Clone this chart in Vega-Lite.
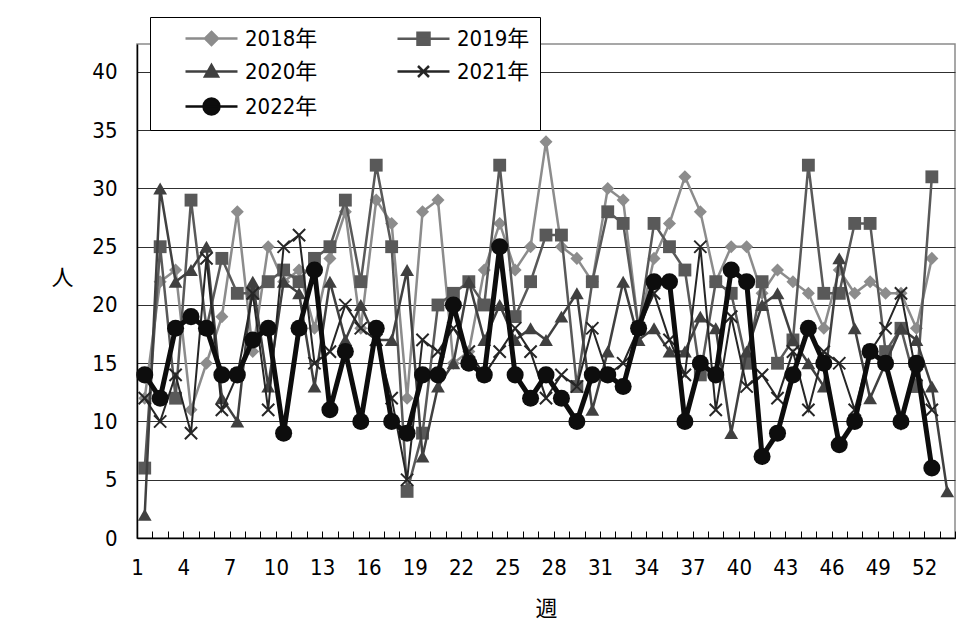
{
  "$schema": "https://vega.github.io/schema/vega-lite/v6.json",
  "width": 818,
  "height": 494,
  "autosize": {"type": "none"},
  "padding": {"left": 137, "top": 44, "right": 21, "bottom": 97},
  "background": "#ffffff",
  "config": {
    "view": {"stroke": "#8a8a8a", "strokeWidth": 1.5},
    "font": "Liberation Sans Narrow, DejaVu Sans Condensed, Noto Sans CJK JP, sans-serif",
    "axis": {
      "labelFont": "Liberation Sans Narrow, DejaVu Sans Condensed, Noto Sans CJK JP, sans-serif",
      "titleFont": "Noto Sans CJK JP, sans-serif",
      "labelColor": "#000000",
      "titleColor": "#000000",
      "domainColor": "#000000",
      "tickColor": "#000000"
    },
    "legend": {"strokeWidth": 1}
  },
  "datasets": {
    "weekly": [
      {"week": 1, "year": "2018年", "count": 12}, {"week": 2, "year": "2018年", "count": 22}, {"week": 3, "year": "2018年", "count": 23}, {"week": 4, "year": "2018年", "count": 11}, {"week": 5, "year": "2018年", "count": 15}, {"week": 6, "year": "2018年", "count": 19}, {"week": 7, "year": "2018年", "count": 28}, {"week": 8, "year": "2018年", "count": 16}, {"week": 9, "year": "2018年", "count": 25}, {"week": 10, "year": "2018年", "count": 22}, {"week": 11, "year": "2018年", "count": 23}, {"week": 12, "year": "2018年", "count": 18}, {"week": 13, "year": "2018年", "count": 24}, {"week": 14, "year": "2018年", "count": 28}, {"week": 15, "year": "2018年", "count": 18}, {"week": 16, "year": "2018年", "count": 29}, {"week": 17, "year": "2018年", "count": 27}, {"week": 18, "year": "2018年", "count": 12}, {"week": 19, "year": "2018年", "count": 28}, {"week": 20, "year": "2018年", "count": 29}, {"week": 21, "year": "2018年", "count": 15}, {"week": 22, "year": "2018年", "count": 16}, {"week": 23, "year": "2018年", "count": 23}, {"week": 24, "year": "2018年", "count": 27}, {"week": 25, "year": "2018年", "count": 23}, {"week": 26, "year": "2018年", "count": 25}, {"week": 27, "year": "2018年", "count": 34}, {"week": 28, "year": "2018年", "count": 25}, {"week": 29, "year": "2018年", "count": 24}, {"week": 30, "year": "2018年", "count": 22}, {"week": 31, "year": "2018年", "count": 30}, {"week": 32, "year": "2018年", "count": 29}, {"week": 33, "year": "2018年", "count": 18}, {"week": 34, "year": "2018年", "count": 24}, {"week": 35, "year": "2018年", "count": 27}, {"week": 36, "year": "2018年", "count": 31}, {"week": 37, "year": "2018年", "count": 28}, {"week": 38, "year": "2018年", "count": 22}, {"week": 39, "year": "2018年", "count": 25}, {"week": 40, "year": "2018年", "count": 25}, {"week": 41, "year": "2018年", "count": 21}, {"week": 42, "year": "2018年", "count": 23}, {"week": 43, "year": "2018年", "count": 22}, {"week": 44, "year": "2018年", "count": 21}, {"week": 45, "year": "2018年", "count": 18}, {"week": 46, "year": "2018年", "count": 23}, {"week": 47, "year": "2018年", "count": 21}, {"week": 48, "year": "2018年", "count": 22}, {"week": 49, "year": "2018年", "count": 21}, {"week": 50, "year": "2018年", "count": 21}, {"week": 51, "year": "2018年", "count": 18}, {"week": 52, "year": "2018年", "count": 24},

      {"week": 1, "year": "2019年", "count": 6}, {"week": 2, "year": "2019年", "count": 25}, {"week": 3, "year": "2019年", "count": 12}, {"week": 4, "year": "2019年", "count": 29}, {"week": 5, "year": "2019年", "count": 18}, {"week": 6, "year": "2019年", "count": 24}, {"week": 7, "year": "2019年", "count": 21}, {"week": 8, "year": "2019年", "count": 21}, {"week": 9, "year": "2019年", "count": 22}, {"week": 10, "year": "2019年", "count": 23}, {"week": 11, "year": "2019年", "count": 22}, {"week": 12, "year": "2019年", "count": 24}, {"week": 13, "year": "2019年", "count": 25}, {"week": 14, "year": "2019年", "count": 29}, {"week": 15, "year": "2019年", "count": 22}, {"week": 16, "year": "2019年", "count": 32}, {"week": 17, "year": "2019年", "count": 25}, {"week": 18, "year": "2019年", "count": 4}, {"week": 19, "year": "2019年", "count": 9}, {"week": 20, "year": "2019年", "count": 20}, {"week": 21, "year": "2019年", "count": 21}, {"week": 22, "year": "2019年", "count": 22}, {"week": 23, "year": "2019年", "count": 20}, {"week": 24, "year": "2019年", "count": 32}, {"week": 25, "year": "2019年", "count": 19}, {"week": 26, "year": "2019年", "count": 22}, {"week": 27, "year": "2019年", "count": 26}, {"week": 28, "year": "2019年", "count": 26}, {"week": 29, "year": "2019年", "count": 13}, {"week": 30, "year": "2019年", "count": 22}, {"week": 31, "year": "2019年", "count": 28}, {"week": 32, "year": "2019年", "count": 27}, {"week": 33, "year": "2019年", "count": 18}, {"week": 34, "year": "2019年", "count": 27}, {"week": 35, "year": "2019年", "count": 25}, {"week": 36, "year": "2019年", "count": 23}, {"week": 37, "year": "2019年", "count": 14}, {"week": 38, "year": "2019年", "count": 22}, {"week": 39, "year": "2019年", "count": 21}, {"week": 40, "year": "2019年", "count": 15}, {"week": 41, "year": "2019年", "count": 22}, {"week": 42, "year": "2019年", "count": 15}, {"week": 43, "year": "2019年", "count": 17}, {"week": 44, "year": "2019年", "count": 32}, {"week": 45, "year": "2019年", "count": 21}, {"week": 46, "year": "2019年", "count": 21}, {"week": 47, "year": "2019年", "count": 27}, {"week": 48, "year": "2019年", "count": 27}, {"week": 49, "year": "2019年", "count": 16}, {"week": 50, "year": "2019年", "count": 18}, {"week": 51, "year": "2019年", "count": 13}, {"week": 52, "year": "2019年", "count": 31},

      {"week": 1, "year": "2020年", "count": 2}, {"week": 2, "year": "2020年", "count": 30}, {"week": 3, "year": "2020年", "count": 22}, {"week": 4, "year": "2020年", "count": 23}, {"week": 5, "year": "2020年", "count": 25}, {"week": 6, "year": "2020年", "count": 12}, {"week": 7, "year": "2020年", "count": 10}, {"week": 8, "year": "2020年", "count": 22}, {"week": 9, "year": "2020年", "count": 13}, {"week": 10, "year": "2020年", "count": 22}, {"week": 11, "year": "2020年", "count": 21}, {"week": 12, "year": "2020年", "count": 13}, {"week": 13, "year": "2020年", "count": 22}, {"week": 14, "year": "2020年", "count": 17}, {"week": 15, "year": "2020年", "count": 20}, {"week": 16, "year": "2020年", "count": 17}, {"week": 17, "year": "2020年", "count": 17}, {"week": 18, "year": "2020年", "count": 23}, {"week": 19, "year": "2020年", "count": 7}, {"week": 20, "year": "2020年", "count": 13}, {"week": 21, "year": "2020年", "count": 15}, {"week": 22, "year": "2020年", "count": 22}, {"week": 23, "year": "2020年", "count": 17}, {"week": 24, "year": "2020年", "count": 20}, {"week": 25, "year": "2020年", "count": 17}, {"week": 26, "year": "2020年", "count": 18}, {"week": 27, "year": "2020年", "count": 17}, {"week": 28, "year": "2020年", "count": 19}, {"week": 29, "year": "2020年", "count": 21}, {"week": 30, "year": "2020年", "count": 11}, {"week": 31, "year": "2020年", "count": 16}, {"week": 32, "year": "2020年", "count": 22}, {"week": 33, "year": "2020年", "count": 17}, {"week": 34, "year": "2020年", "count": 18}, {"week": 35, "year": "2020年", "count": 16}, {"week": 36, "year": "2020年", "count": 16}, {"week": 37, "year": "2020年", "count": 19}, {"week": 38, "year": "2020年", "count": 18}, {"week": 39, "year": "2020年", "count": 9}, {"week": 40, "year": "2020年", "count": 16}, {"week": 41, "year": "2020年", "count": 20}, {"week": 42, "year": "2020年", "count": 21}, {"week": 43, "year": "2020年", "count": 17}, {"week": 44, "year": "2020年", "count": 15}, {"week": 45, "year": "2020年", "count": 13}, {"week": 46, "year": "2020年", "count": 24}, {"week": 47, "year": "2020年", "count": 18}, {"week": 48, "year": "2020年", "count": 12}, {"week": 49, "year": "2020年", "count": 15}, {"week": 50, "year": "2020年", "count": 18}, {"week": 51, "year": "2020年", "count": 17}, {"week": 52, "year": "2020年", "count": 13}, {"week": 53, "year": "2020年", "count": 4},

      {"week": 1, "year": "2021年", "count": 12}, {"week": 2, "year": "2021年", "count": 10}, {"week": 3, "year": "2021年", "count": 14}, {"week": 4, "year": "2021年", "count": 9}, {"week": 5, "year": "2021年", "count": 24}, {"week": 6, "year": "2021年", "count": 11}, {"week": 7, "year": "2021年", "count": 14}, {"week": 8, "year": "2021年", "count": 21}, {"week": 9, "year": "2021年", "count": 11}, {"week": 10, "year": "2021年", "count": 25}, {"week": 11, "year": "2021年", "count": 26}, {"week": 12, "year": "2021年", "count": 15}, {"week": 13, "year": "2021年", "count": 16}, {"week": 14, "year": "2021年", "count": 20}, {"week": 15, "year": "2021年", "count": 18}, {"week": 16, "year": "2021年", "count": 17}, {"week": 17, "year": "2021年", "count": 12}, {"week": 18, "year": "2021年", "count": 5}, {"week": 19, "year": "2021年", "count": 17}, {"week": 20, "year": "2021年", "count": 16}, {"week": 21, "year": "2021年", "count": 18}, {"week": 22, "year": "2021年", "count": 16}, {"week": 23, "year": "2021年", "count": 14}, {"week": 24, "year": "2021年", "count": 16}, {"week": 25, "year": "2021年", "count": 18}, {"week": 26, "year": "2021年", "count": 16}, {"week": 27, "year": "2021年", "count": 12}, {"week": 28, "year": "2021年", "count": 14}, {"week": 29, "year": "2021年", "count": 13}, {"week": 30, "year": "2021年", "count": 18}, {"week": 31, "year": "2021年", "count": 14}, {"week": 32, "year": "2021年", "count": 15}, {"week": 33, "year": "2021年", "count": 18}, {"week": 34, "year": "2021年", "count": 21}, {"week": 35, "year": "2021年", "count": 17}, {"week": 36, "year": "2021年", "count": 14}, {"week": 37, "year": "2021年", "count": 25}, {"week": 38, "year": "2021年", "count": 11}, {"week": 39, "year": "2021年", "count": 19}, {"week": 40, "year": "2021年", "count": 13}, {"week": 41, "year": "2021年", "count": 14}, {"week": 42, "year": "2021年", "count": 12}, {"week": 43, "year": "2021年", "count": 16}, {"week": 44, "year": "2021年", "count": 11}, {"week": 45, "year": "2021年", "count": 16}, {"week": 46, "year": "2021年", "count": 15}, {"week": 47, "year": "2021年", "count": 11}, {"week": 48, "year": "2021年", "count": 16}, {"week": 49, "year": "2021年", "count": 18}, {"week": 50, "year": "2021年", "count": 21}, {"week": 51, "year": "2021年", "count": 14}, {"week": 52, "year": "2021年", "count": 11},

      {"week": 1, "year": "2022年", "count": 14}, {"week": 2, "year": "2022年", "count": 12}, {"week": 3, "year": "2022年", "count": 18}, {"week": 4, "year": "2022年", "count": 19}, {"week": 5, "year": "2022年", "count": 18}, {"week": 6, "year": "2022年", "count": 14}, {"week": 7, "year": "2022年", "count": 14}, {"week": 8, "year": "2022年", "count": 17}, {"week": 9, "year": "2022年", "count": 18}, {"week": 10, "year": "2022年", "count": 9}, {"week": 11, "year": "2022年", "count": 18}, {"week": 12, "year": "2022年", "count": 23}, {"week": 13, "year": "2022年", "count": 11}, {"week": 14, "year": "2022年", "count": 16}, {"week": 15, "year": "2022年", "count": 10}, {"week": 16, "year": "2022年", "count": 18}, {"week": 17, "year": "2022年", "count": 10}, {"week": 18, "year": "2022年", "count": 9}, {"week": 19, "year": "2022年", "count": 14}, {"week": 20, "year": "2022年", "count": 14}, {"week": 21, "year": "2022年", "count": 20}, {"week": 22, "year": "2022年", "count": 15}, {"week": 23, "year": "2022年", "count": 14}, {"week": 24, "year": "2022年", "count": 25}, {"week": 25, "year": "2022年", "count": 14}, {"week": 26, "year": "2022年", "count": 12}, {"week": 27, "year": "2022年", "count": 14}, {"week": 28, "year": "2022年", "count": 12}, {"week": 29, "year": "2022年", "count": 10}, {"week": 30, "year": "2022年", "count": 14}, {"week": 31, "year": "2022年", "count": 14}, {"week": 32, "year": "2022年", "count": 13}, {"week": 33, "year": "2022年", "count": 18}, {"week": 34, "year": "2022年", "count": 22}, {"week": 35, "year": "2022年", "count": 22}, {"week": 36, "year": "2022年", "count": 10}, {"week": 37, "year": "2022年", "count": 15}, {"week": 38, "year": "2022年", "count": 14}, {"week": 39, "year": "2022年", "count": 23}, {"week": 40, "year": "2022年", "count": 22}, {"week": 41, "year": "2022年", "count": 7}, {"week": 42, "year": "2022年", "count": 9}, {"week": 43, "year": "2022年", "count": 14}, {"week": 44, "year": "2022年", "count": 18}, {"week": 45, "year": "2022年", "count": 15}, {"week": 46, "year": "2022年", "count": 8}, {"week": 47, "year": "2022年", "count": 10}, {"week": 48, "year": "2022年", "count": 16}, {"week": 49, "year": "2022年", "count": 15}, {"week": 50, "year": "2022年", "count": 10}, {"week": 51, "year": "2022年", "count": 15}, {"week": 52, "year": "2022年", "count": 6}
    ]
  },
  "data": {"name": "weekly"},
  "encoding": {
    "x": {
      "field": "week",
      "type": "quantitative",
      "scale": {"domain": [0.5, 53.5], "nice": false, "zero": false},
      "axis": {
        "title": "週",
        "titleFontSize": 22,
        "titleFontWeight": "normal",
        "titleY": 70,
        "titleBaseline": "middle",
        "values": [0.5, 1.5, 2.5, 3.5, 4.5, 5.5, 6.5, 7.5, 8.5, 9.5, 10.5, 11.5, 12.5, 13.5, 14.5, 15.5, 16.5, 17.5, 18.5, 19.5, 20.5, 21.5, 22.5, 23.5, 24.5, 25.5, 26.5, 27.5, 28.5, 29.5, 30.5, 31.5, 32.5, 33.5, 34.5, 35.5, 36.5, 37.5, 38.5, 39.5, 40.5, 41.5, 42.5, 43.5, 44.5, 45.5, 46.5, 47.5, 48.5, 49.5, 50.5, 51.5, 52.5, 53.5],
        "labelExpr": "(datum.value + 0.5) % 3 == 1 && datum.value < 53 ? '' + (datum.value + 0.5) : ''",
        "labelDx": 7.7,
        "labelFontSize": 22,
        "labelOverlap": false,
        "labelFlush": false,
        "labelBound": false,
        "labelBaseline": "top",
        "labelPadding": 26,
        "tickSize": -7,
        "tickWidth": 1,
        "domainWidth": 1.5,
        "grid": false
      }
    },
    "y": {
      "field": "count",
      "type": "quantitative",
      "scale": {"domain": [0, 42.4], "nice": false, "zero": true},
      "axis": {
        "title": "人",
        "titleAngle": 0,
        "titleFontSize": 22,
        "titleFontWeight": "normal",
        "titleX": -75,
        "titleY": 233,
        "titleAlign": "center",
        "titleBaseline": "middle",
        "values": [0, 5, 10, 15, 20, 25, 30, 35, 40],
        "labelFontSize": 22,
        "labelPadding": 20,
        "ticks": false,
        "domainWidth": 1.5,
        "grid": true,
        "gridColor": "#303030",
        "gridWidth": 1
      }
    }
  },
  "layer": [
    {
      "transform": [{"filter": "datum.year == '2018年'"}],
      "mark": {"type": "line", "color": "#8c8c8c", "strokeWidth": 2.5}
    },
    {
      "transform": [{"filter": "datum.year == '2018年'"}],
      "mark": {"type": "point", "shape": "diamond", "size": 170, "filled": true, "color": "#8c8c8c", "opacity": 1}
    },
    {
      "transform": [{"filter": "datum.year == '2019年'"}],
      "mark": {"type": "line", "color": "#595959", "strokeWidth": 2.5}
    },
    {
      "transform": [{"filter": "datum.year == '2019年'"}],
      "mark": {"type": "point", "shape": "square", "size": 165, "filled": true, "color": "#595959", "opacity": 1}
    },
    {
      "transform": [{"filter": "datum.year == '2020年'"}],
      "mark": {"type": "line", "color": "#404040", "strokeWidth": 2.5}
    },
    {
      "transform": [{"filter": "datum.year == '2020年'"}],
      "mark": {"type": "point", "shape": "triangle-up", "size": 190, "filled": true, "color": "#404040", "opacity": 1}
    },
    {
      "transform": [{"filter": "datum.year == '2021年'"}],
      "mark": {"type": "line", "color": "#262626", "strokeWidth": 2}
    },
    {
      "transform": [{"filter": "datum.year == '2021年'"}],
      "mark": {"type": "point", "shape": "M-1,-1L1,1M1,-1L-1,1", "size": 150, "filled": false, "color": "#262626", "strokeWidth": 2, "opacity": 1}
    },
    {
      "transform": [{"filter": "datum.year == '2022年'"}],
      "mark": {"type": "line", "color": "#0d0d0d", "strokeWidth": 5}
    },
    {
      "transform": [{"filter": "datum.year == '2022年'"}],
      "mark": {"type": "point", "shape": "circle", "size": 290, "filled": true, "color": "#0d0d0d", "opacity": 1}
    },
    {
      "transform": [{"filter": "datum.count < 0"}],
      "mark": {"type": "point", "filled": true, "opacity": 1},
      "encoding": {
        "fill": {
          "field": "year",
          "type": "nominal",
          "scale": {
            "domain": ["2018年", "2019年", "2020年", "2021年", "2022年"],
            "range": ["#8c8c8c", "#595959", "#404040", "#262626", "#0d0d0d"]
          },
          "legend": {
            "title": null,
            "orient": "none",
            "direction": "horizontal",
            "legendX": 13,
            "legendY": -27,
            "columns": 2,
            "padding": 10,
            "strokeColor": "#000000",
            "fillColor": "#ffffff",
            "symbolSize": 400,
            "symbolStrokeWidth": 2.5,
            "symbolOffset": 40,
            "labelOffset": 22,
            "rowPadding": 10,
            "columnPadding": 54,
            "labelFont": "Liberation Sans Narrow, DejaVu Sans Condensed, Noto Sans CJK JP, sans-serif",
            "labelFontSize": 22,
            "labelColor": "#000000",
            "encode": {
              "symbols": {
                "strokeWidth": {"signal": "datum.value === '2022年' ? 4.5 : 2.5"},
                "opacity": {"value": 1}
              }
            }
          }
        },
        "stroke": {
          "field": "year",
          "type": "nominal",
          "scale": {
            "domain": ["2018年", "2019年", "2020年", "2021年", "2022年"],
            "range": ["#8c8c8c", "#595959", "#404040", "#262626", "#0d0d0d"]
          }
        },
        "shape": {
          "field": "year",
          "type": "nominal",
          "scale": {
            "domain": ["2018年", "2019年", "2020年", "2021年", "2022年"],
            "range": [
              "M-2.6,0H2.6M0,-0.65L0.65,0L0,0.65L-0.65,0Z",
              "M-2.6,0H2.6M-0.6,-0.6H0.6V0.6H-0.6Z",
              "M-2.6,0H2.6M0,-0.65L0.65,0.5H-0.65Z",
              "M-2.6,0H2.6M-0.55,-0.55L0.55,0.55M0.55,-0.55L-0.55,0.55",
              "M-2.6,0H2.6M0.8,0A0.8,0.8,0,1,1,-0.8,0A0.8,0.8,0,1,1,0.8,0Z"
            ]
          }
        }
      }
    }
  ]
}
